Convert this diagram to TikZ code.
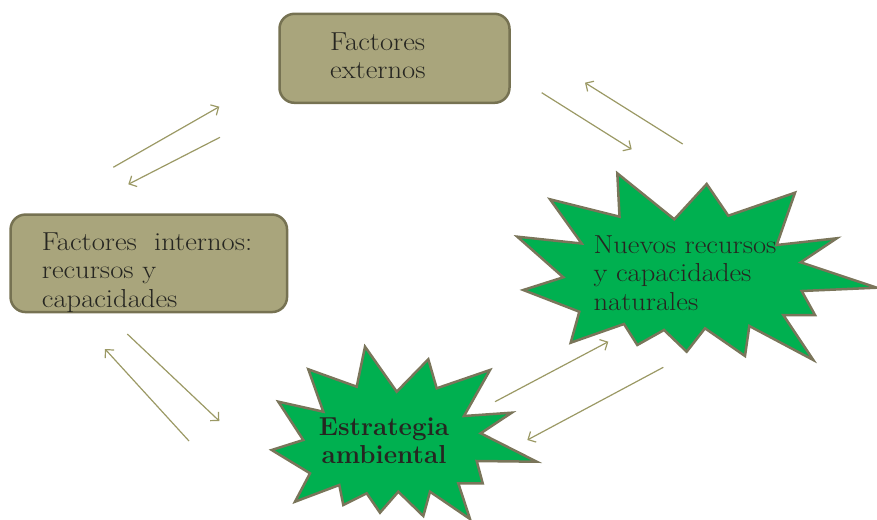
\documentclass[tikz,border=0pt]{standalone}
\usepackage{graphicx}
\usetikzlibrary{arrows.meta}

\definecolor{boxfill}{RGB}{169,165,124}
\definecolor{boxline}{RGB}{118,114,82}
\definecolor{starfill}{RGB}{0,176,80}
\definecolor{starline}{RGB}{122,117,90}
\definecolor{arrowcol}{RGB}{155,153,101}
\definecolor{txt}{RGB}{38,38,33}

% left-aligned lines, slightly widened; baseline on the first line
\newcommand\widelines[1]{\scalebox{1.1}[1]{\begin{tabular}[t]{@{}l@{}}#1\end{tabular}}}

\begin{document}
\begin{tikzpicture}[x=1pt,y=-1pt,
  box/.style={draw=boxline, fill=boxfill, line width=2.5pt, rounded corners=15pt, inner sep=0pt},
  burst/.style={draw=starline, fill=starfill, line width=2.5pt, line join=miter},
  lbl/.style={text=txt, font=\fontsize{26}{28.8}\selectfont, inner sep=0pt, anchor=base west},
  flow/.style={draw=arrowcol, line width=1.2pt, -{Straight Barb[length=6pt,width=12pt]}}
]
\useasboundingbox (0,0) rectangle (877,519);

% rounded boxes
\node[box, minimum width=230pt, minimum height=89pt] (ext) at (394.5,58.3) {};
\node[box, minimum width=276.5pt, minimum height=97.5pt] (int) at (148.8,263.3) {};

% burst around "Nuevos recursos y capacidades naturales"
\draw[burst] (617.3,173.3) -- (674.3,219.3) -- (706.7,184) -- (728.3,215.7)
  -- (795,192.7) -- (776.7,245) -- (836.7,238.3) -- (800.7,262.3)
  -- (876.7,287.7) -- (801.7,291) -- (815,315) -- (783.3,315)
  -- (813.3,360) -- (749.3,326) -- (745,356) -- (705,328.3)
  -- (686.7,351.7) -- (664,330) -- (637.3,345) -- (624,324)
  -- (570.7,342.7) -- (579.3,311.7) -- (523.3,290) -- (563.3,277.3)
  -- (517.3,236.7) -- (581.7,243.5) -- (550,199.3) -- (619.5,216.7) -- cycle;

% burst around "Estrategia ambiental"
\draw[burst] (308.3,369.3) -- (356.7,386.7) -- (365,346.7) -- (396.7,391.7)
  -- (428.3,359.3) -- (436.7,388.3) -- (490,370) -- (464,416)
  -- (511.7,412.7) -- (480.7,433.3) -- (536.7,461.7) -- (476.7,461)
  -- (482.7,483.3) -- (458.3,483.3) -- (470,519) -- (430,491.7)
  -- (423.3,516) -- (398.3,491.7) -- (380,512.7) -- (366.7,493.3)
  -- (343.3,505) -- (339.3,485) -- (295,501.7) -- (310,473.3)
  -- (271.7,450) -- (303.3,440) -- (278.3,401.7) -- (323.3,411.7) -- cycle;

% labels
\node[lbl] (extT) at (330,50) {\widelines{Factores\\externos}};
\node[lbl] (intT) at (41.7,250) {\widelines{Factores\ \ internos:\\recursos y\\capacidades}};
\node[lbl] (natT) at (593.3,253) {\widelines{Nuevos recursos\\y capacidades\\naturales}};
\node[lbl, font=\fontsize{26}{28.5}\selectfont\bfseries, anchor=base] (estT) at (384,435)
  {\begin{tabular}[t]{@{}c@{}}Estrategia\\ambiental\end{tabular}};

% arrow end points
\coordinate (a1s) at (113.3,167.3); \coordinate (a1e) at (219.3,106.7);
\coordinate (a2s) at (220,137.3);   \coordinate (a2e) at (128.3,184.3);
\coordinate (b1s) at (541.7,92.7);  \coordinate (b1e) at (631.7,149.3);
\coordinate (b2s) at (682.7,144);   \coordinate (b2e) at (585,82.7);
\coordinate (c1s) at (127.3,334);   \coordinate (c1e) at (219.3,421);
\coordinate (c2s) at (189,441);     \coordinate (c2e) at (105,349);
\coordinate (d1s) at (495,401.7);   \coordinate (d1e) at (608.3,341.7);
\coordinate (d2s) at (663.3,367.3); \coordinate (d2e) at (527.3,440);

% paired arrows
\draw[flow] (a1s) -- (a1e);
\draw[flow] (a2s) -- (a2e);
\draw[flow] (b1s) -- (b1e);
\draw[flow] (b2s) -- (b2e);
\draw[flow] (c1s) -- (c1e);
\draw[flow] (c2s) -- (c2e);
\draw[flow] (d1s) -- (d1e);
\draw[flow] (d2s) -- (d2e);
\end{tikzpicture}
\end{document}
